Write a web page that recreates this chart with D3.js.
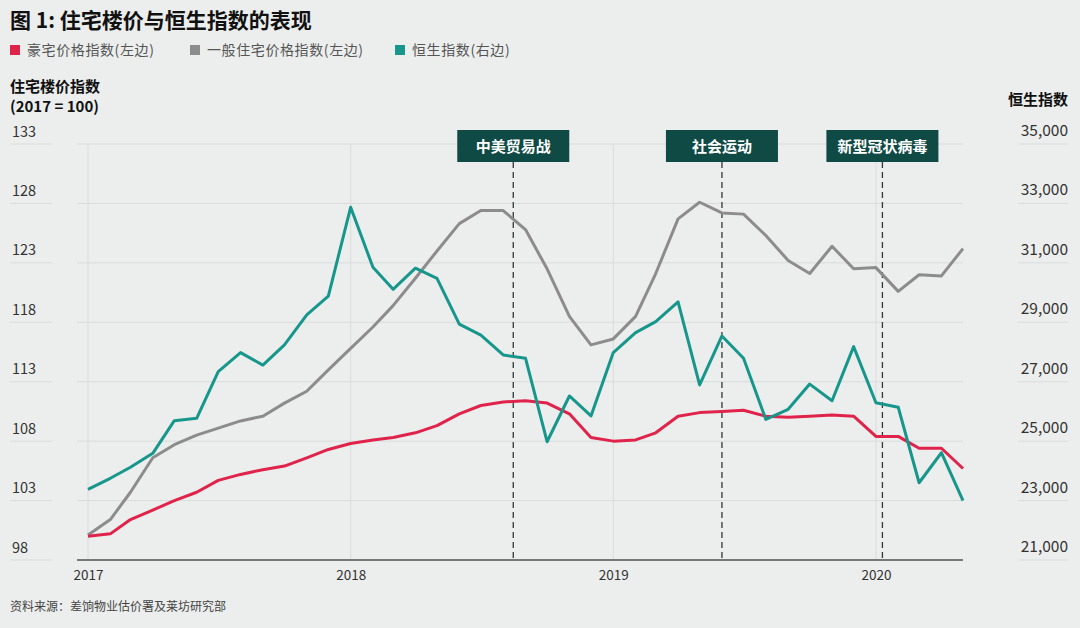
<!DOCTYPE html>
<html><head><meta charset="utf-8">
<script src="https://cdn.jsdelivr.net/npm/d3@7"></script>
<style>
html,body{margin:0;padding:0;background:#eceeed;}
svg{display:block;font-family:"Noto Sans CJK SC","Noto Sans",sans-serif;}
</style></head><body>
<svg id="c" width="1080" height="628"></svg>
<script>
const months = d3.range(41).map(i => new Date(2017, i, 1));
const luxury = [100.0,100.2,101.4,102.2,103.0,103.7,104.7,105.2,105.6,105.9,106.6,107.3,107.8,108.1,108.3,108.7,109.3,110.3,111.0,111.3,111.4,111.2,110.3,108.3,108.0,108.1,108.7,110.1,110.4,110.5,110.6,110.1,110.0,110.1,110.2,110.1,108.4,108.4,107.4,107.4,105.7];
const general = [100.1,101.4,103.7,106.6,107.7,108.5,109.1,109.7,110.1,111.2,112.2,114.0,115.8,117.6,119.4,121.7,124.0,126.3,127.4,127.4,125.8,122.5,118.5,116.1,116.6,118.5,122.1,126.7,128.1,127.2,127.1,125.3,123.2,122.1,124.4,122.5,122.6,120.6,122.0,121.9,124.2];
const hsi = [23380,23750,24120,24590,25690,25770,27340,27980,27560,28240,29250,29880,32870,30850,30110,30820,30480,28940,28570,27900,27790,24980,26520,25850,27980,28650,29020,29690,26890,28540,27790,25730,26070,26920,26360,28180,26290,26140,23600,24610,23000];
const leftTicks = [98,103,108,113,118,123,128,133];
const rightTicks = [21000,23000,25000,27000,29000,31000,33000,35000];
const yearTicks = [2017,2018,2019,2020];
const events = [{label:"中美贸易战", date:"2018-08-15"},{label:"社会运动", date:"2019-06-01"},{label:"新型冠状病毒", date:"2020-01-10"}];
const legendItems = [{label:"豪宅价格指数(左边)", color:"#e0234a"},{label:"一般住宅价格指数(左边)", color:"#8c8c8c"},{label:"恒生指数(右边)", color:"#17968c"}];
const title = "图 1: 住宅楼价与恒生指数的表现";
const source = "资料来源：差饷物业估价署及莱坊研究部";

const svg = d3.select("#c");
const x = d3.scaleTime().domain([new Date(2017,0,1), new Date(2020,4,1)]).range([88, 963]);
const yL = d3.scaleLinear().domain([98,133]).range([560,144]);
const yR = d3.scaleLinear().domain([21000,35000]).range([560,144]);
const grid = "#d9dcdb";

// title
svg.append("text").attr("x",10).attr("y",28).attr("font-size",21).attr("font-weight",700).attr("fill","#111").text(title);
// legend
const lx = [10,190,395];
legendItems.forEach((d,i)=>{
  svg.append("rect").attr("x",lx[i]).attr("y",45).attr("width",10).attr("height",10).attr("fill",d.color);
  svg.append("text").attr("x",lx[i]+17).attr("y",55).attr("font-size",14).attr("letter-spacing",0.6).attr("fill","#555").text(d.label);
});
// axis titles
svg.append("text").attr("x",10).attr("y",92).attr("font-size",15).attr("font-weight",700).attr("fill","#111").text("住宅楼价指数");
svg.append("text").attr("x",10).attr("y",112).attr("font-size",15).attr("font-weight",700).attr("fill","#111").text("(2017 = 100)");
svg.append("text").attr("x",1068).attr("y",105).attr("text-anchor","end").attr("font-size",15).attr("font-weight",700).attr("fill","#111").text("恒生指数");

// horizontal gridlines
leftTicks.forEach(t=>{
  const yy = yL(t);
  svg.append("line").attr("x1",10).attr("x2",52).attr("y1",yy).attr("y2",yy).attr("stroke",grid);
  if (t!==98) svg.append("line").attr("x1",77).attr("x2",963).attr("y1",yy).attr("y2",yy).attr("stroke",grid);
  svg.append("line").attr("x1",1018).attr("x2",1068).attr("y1",yy).attr("y2",yy).attr("stroke",grid);
});
// vertical year gridlines
yearTicks.forEach(yr=>{
  const xx = x(new Date(yr,0,1));
  svg.append("line").attr("x1",xx).attr("x2",xx).attr("y1",144).attr("y2",560).attr("stroke",grid);
});

// left axis labels
const gLeft = svg.append("g").attr("transform","translate(12,0)")
  .call(d3.axisRight(yL).tickValues(leftTicks).tickSize(0).tickPadding(0));
gLeft.select(".domain").remove();
gLeft.selectAll("text").attr("font-size",14.5).attr("fill","#333").attr("font-family",'"Noto Sans CJK SC",sans-serif').attr("dy","-0.55em").attr("text-anchor","start");
// right axis labels
const gRight = svg.append("g").attr("transform","translate(1068,0)")
  .call(d3.axisLeft(yR).tickValues(rightTicks).tickFormat(d3.format(",")).tickSize(0).tickPadding(0));
gRight.select(".domain").remove();
gRight.selectAll("text").attr("font-size",15.5).attr("fill","#333").attr("font-family",'"Noto Sans CJK SC",sans-serif').attr("dy","-0.55em");

// x axis
svg.append("line").attr("x1",77).attr("x2",963).attr("y1",560).attr("y2",560).attr("stroke","#777").attr("stroke-width",2);
const gX = svg.append("g").attr("transform","translate(0,560)")
  .call(d3.axisBottom(x).tickValues(yearTicks.map(y=>new Date(y,0,1))).tickFormat(d3.timeFormat("%Y")).tickSize(0).tickPadding(10));
gX.select(".domain").remove();
gX.selectAll("text").attr("font-size",13.5).attr("fill","#333").attr("font-family",'"Noto Sans CJK SC",sans-serif');

// events
const parse = d3.timeParse("%Y-%m-%d");
events.forEach(e=>{
  const xx = x(parse(e.date));
  svg.append("line").attr("x1",xx).attr("x2",xx).attr("y1",162).attr("y2",560).attr("stroke","#2b3a38").attr("stroke-width",1.3).attr("stroke-dasharray","6,4");
  svg.append("rect").attr("x",xx-56).attr("y",130).attr("width",112).attr("height",32).attr("fill","#0f4a45");
  svg.append("text").attr("x",xx).attr("y",152).attr("text-anchor","middle").attr("font-size",15).attr("font-weight",700).attr("fill","#fff").text(e.label);
});

// lines
const lineL = d3.line().x((d,i)=>x(months[i])).y(d=>yL(d));
const lineR = d3.line().x((d,i)=>x(months[i])).y(d=>yR(d));
svg.append("path").datum(general).attr("d",lineL).attr("fill","none").attr("stroke","#8c8c8c").attr("stroke-width",3).attr("stroke-linejoin","round");
svg.append("path").datum(luxury).attr("d",lineL).attr("fill","none").attr("stroke","#e0234a").attr("stroke-width",3).attr("stroke-linejoin","round");
svg.append("path").datum(hsi).attr("d",lineR).attr("fill","none").attr("stroke","#17968c").attr("stroke-width",3).attr("stroke-linejoin","round");

// source
svg.append("text").attr("x",10).attr("y",611).attr("font-size",12).attr("fill","#444").text(source);
</script></body></html>
